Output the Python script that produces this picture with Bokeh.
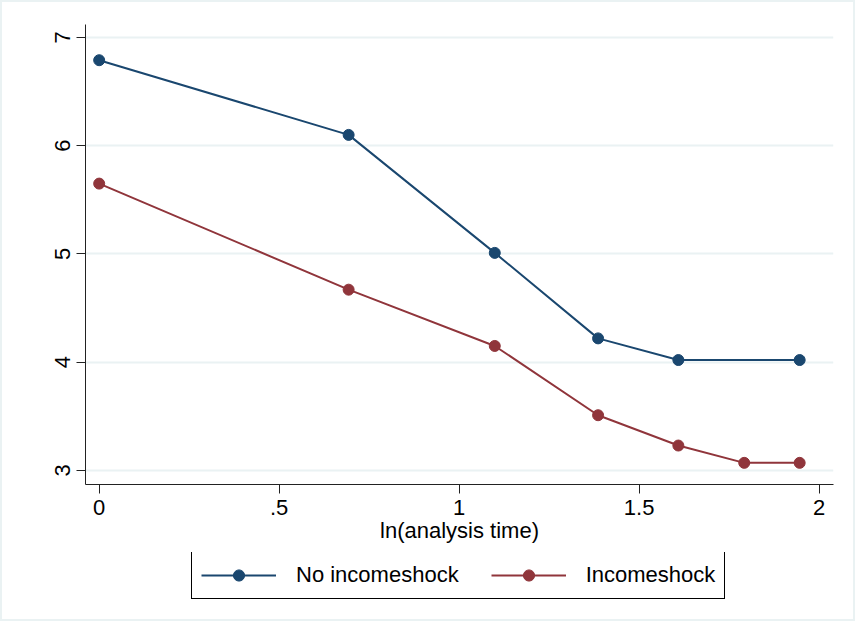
import numpy as np
from bokeh.plotting import figure
from bokeh.layouts import column
from bokeh.models import FixedTicker, Legend, LegendItem, Range1d
from bokeh.embed import file_html
from bokeh.resources import INLINE

# Data (x = ln(analysis time))
x_no = [0.0, 0.693, 1.099, 1.386, 1.609, 1.946]
y_no = [6.79, 6.10, 5.01, 4.22, 4.02, 4.02]
x_inc = [0.0, 0.693, 1.099, 1.386, 1.609, 1.792, 1.946]
y_inc = [5.65, 4.67, 4.15, 3.51, 3.23, 3.07, 3.07]
x_ticks = [0, 0.5, 1, 1.5, 2]
x_tick_labels = ["0", ".5", "1", "1.5", "2"]
y_ticks = [3, 4, 5, 6, 7]
series_names = ["No incomeshock", "Incomeshock"]

BLUE = "#1a476f"
RED = "#90353b"
FONT = "Liberation Sans"
FS = "22px"

p = figure(width=851, height=550, output_backend="svg", toolbar_location=None,
           x_range=(-0.038, 2.04), y_range=(2.87, 7.12),
           min_border_left=83, min_border_top=22, min_border_right=20, min_border_bottom=68)
p.background_fill_color = "white"
p.border_fill_color = "white"
p.outline_line_color = None

# grid
p.xgrid.visible = False
p.ygrid.ticker = FixedTicker(ticks=y_ticks)
p.ygrid.grid_line_color = "#eaf2f3"
p.ygrid.grid_line_width = 2

# axes
for ax in (p.xaxis[0], p.yaxis[0]):
    ax.axis_line_color = "#222222"
    ax.axis_line_width = 1
    ax.major_tick_line_color = "#222222"
    ax.major_tick_out = 9
    ax.major_tick_in = 0
    ax.minor_tick_line_color = None
    ax.major_label_text_font = FONT
    ax.major_label_text_font_size = FS
    ax.major_label_text_color = "black"
    ax.axis_label_text_font = FONT
    ax.axis_label_text_font_size = FS
    ax.axis_label_text_font_style = "normal"
    ax.axis_label_text_color = "black"

p.xaxis.ticker = FixedTicker(ticks=x_ticks)
p.xaxis.major_label_overrides = {t: l for t, l in zip(x_ticks, x_tick_labels)}
p.xaxis.axis_label = "ln(analysis time)"
p.xaxis.major_label_standoff = 6
p.xaxis.axis_label_standoff = 0

p.yaxis.ticker = FixedTicker(ticks=y_ticks)
p.yaxis.major_label_orientation = "vertical"
p.yaxis.major_label_standoff = 6

p.line(x_no, y_no, line_color=BLUE, line_width=2)
p.scatter(x_no, y_no, size=11, fill_color=BLUE, line_color=BLUE)
p.line(x_inc, y_inc, line_color=RED, line_width=2)
p.scatter(x_inc, y_inc, size=11, fill_color=RED, line_color=RED)

# legend panel below (separate figure, renderers out of view)
p2 = figure(width=851, height=67, output_backend="svg", toolbar_location=None,
            x_range=Range1d(100, 101), y_range=Range1d(100, 101),
            min_border=0)
p2.axis.visible = False
p2.grid.visible = False
p2.outline_line_color = None
p2.background_fill_color = "white"
p2.border_fill_color = "white"
d1 = p2.line(x_no, y_no, line_color=BLUE, line_width=2)
e1 = p2.scatter(x_no, y_no, size=11, fill_color=BLUE, line_color=BLUE)
d2 = p2.line(x_inc, y_inc, line_color=RED, line_width=2)
e2 = p2.scatter(x_inc, y_inc, size=11, fill_color=RED, line_color=RED)

legend = Legend(items=[LegendItem(label=series_names[0], renderers=[d1, e1]),
                       LegendItem(label=series_names[1], renderers=[d2, e2])],
                orientation="horizontal", location=(106, 20))
legend.label_text_font = FONT
legend.label_text_font_size = FS
legend.label_text_color = "black"
legend.glyph_width = 75
legend.glyph_height = 28
legend.label_standoff = 20
legend.spacing = 32
legend.padding = 9
legend.margin = 0
legend.border_line_color = "black"
legend.border_line_width = 1
legend.border_line_alpha = 1
legend.background_fill_color = "white"
legend.background_fill_alpha = 1
p2.add_layout(legend, "center")

layout = column(p, p2, spacing=0)
layout.styles = {"border": "2px solid #eaf2f3", "background-color": "white"}

open("out.html", "w").write(file_html(layout, INLINE))
